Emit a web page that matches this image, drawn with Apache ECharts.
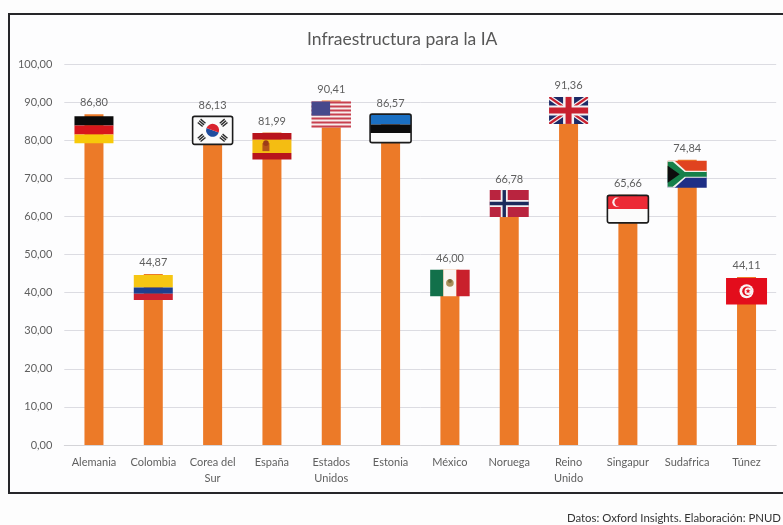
<!DOCTYPE html>
<html lang="es">
<head>
<meta charset="utf-8">
<title>Infraestructura para la IA</title>
<script src="https://cdn.jsdelivr.net/npm/echarts@6/dist/echarts.min.js"></script>
<style>
  html, body { margin: 0; padding: 0; background: #fdfdfd; }
  #chart { width: 783px; height: 525px; }
</style>
</head>
<body>
<div id="chart"></div>
<script>
const categories = ['Alemania', 'Colombia', 'Corea del\nSur', 'España', 'Estados\nUnidos', 'Estonia',
  'México', 'Noruega', 'Reino\nUnido', 'Singapur', 'Sudafrica', 'Túnez'];
const scores = [86.80, 44.87, 86.13, 81.99, 90.41, 86.57, 46.00, 66.78, 91.36, 65.66, 74.84, 44.11];
const flagCodes = ['de', 'co', 'kr', 'es', 'us', 'ee', 'mx', 'no', 'gb', 'sg', 'za', 'tn'];
const titleText = 'Infraestructura para la IA';
const sourceText = 'Datos: Oxford Insights. Elaboración: PNUD';

const TEXT = '#5f5f5f';
const FONT = 'Lato, "Open Sans", sans-serif';

// Shape helpers; all coordinates are local to a flag whose origin is its top-left corner.
const rect = (x, y, width, height, fill) => ({ type: 'rect', shape: { x, y, width, height }, style: { fill } });
const poly = (points, fill) => ({ type: 'polygon', shape: { points }, style: { fill } });
const disc = (cx, cy, r, fill) => ({ type: 'circle', shape: { cx, cy, r }, style: { fill } });
const star = (cx, cy, r, fill) => {
  const pts = [];
  for (let k = 0; k < 10; k++) {
    const a = -Math.PI / 2 + k * Math.PI / 5, q = k % 2 ? r * 0.42 : r;
    pts.push([cx + q * Math.cos(a), cy + q * Math.sin(a)]);
  }
  return poly(pts, fill);
};
const frame = (w, h) => ({
  type: 'rect', shape: { x: 0, y: 0, width: w, height: h, r: 2 },
  style: { fill: 'none', stroke: '#1c1c1c', lineWidth: 1.6 }
});
const hBands = (w, h, colors) => colors.map(([from, to, c]) => rect(0, h * from, w, h * (to - from), c));

// Each entry: width, height, vertical offset from the bar top, and the drawing routine.
const flags = {
  de: { w: 39, h: 27, dy: 2, draw: (w, h) => hBands(w, h, [[0, .34, '#0b0b0b'], [.34, .67, '#d8161b'], [.67, 1, '#f7c90a']]) },
  co: { w: 39, h: 25, dy: 1, draw: (w, h) => hBands(w, h, [[0, .5, '#f6c613'], [.5, .75, '#1d3f8f'], [.75, 1, '#cc2130']]) },
  kr: {
    w: 40, h: 28, dy: -0.5, draw: (w, h) => {
      const cx = w / 2, cy = h / 2, out = [rect(0, 0, w, h, '#fbfbfb')];
      [[-11, -7.5, 40], [11, -7.5, -40], [-11, 7.5, -40], [11, 7.5, 40]].forEach(([dx, dy, deg]) => {
        [-2.2, 0, 2.2].forEach(off => {
          const a = deg * Math.PI / 180;
          out.push({
            type: 'rect', shape: { x: -3.2, y: -0.7, width: 6.4, height: 1.4 },
            x: cx + dx + off * Math.cos(a + Math.PI / 2), y: cy + dy + off * Math.sin(a + Math.PI / 2),
            rotation: -a, style: { fill: '#2a2a2a' }
          });
        });
      });
      out.push({ type: 'sector', shape: { cx, cy, r: 6.5, r0: 0, startAngle: 0.35, endAngle: 0.35 + Math.PI }, style: { fill: '#1f4c9e' } });
      out.push({ type: 'sector', shape: { cx, cy, r: 6.5, r0: 0, startAngle: 0.35 + Math.PI, endAngle: 0.35 + 2 * Math.PI }, style: { fill: '#d9232e' } });
      out.push(frame(w, h));
      return out;
    }
  },
  es: {
    w: 39, h: 26.5, dy: 0.5, draw: (w, h) => [
      ...hBands(w, h, [[0, .25, '#b8141c'], [.25, .75, '#f4bd12'], [.75, 1, '#b8141c']]),
      rect(10, 10, 7, 8, '#b4541a'), disc(13.5, 10, 2.8, '#9c3c18')
    ]
  },
  us: {
    w: 39.5, h: 26, dy: 1, draw: (w, h) => {
      const out = [rect(0, 0, w, h, '#f7eeee')];
      for (let k = 0; k < 7; k++) out.push(rect(0, k * 2 * h / 13, w, h / 13, '#c8404f'));
      out.push(rect(0, 0, w * 0.47, h * 0.54, '#47498c'));
      return out;
    }
  },
  ee: {
    w: 41, h: 28.5, dy: -1, draw: (w, h) => [
      ...hBands(w, h, [[0, .36, '#1a6fc2'], [.36, .66, '#0b0b0b'], [.66, 1, '#fbfbfb']]),
      frame(w, h)
    ]
  },
  mx: {
    w: 39.5, h: 26.5, dy: 0, draw: (w, h) => [
      rect(0, 0, w / 3, h, '#12704a'), rect(w / 3, 0, w / 3, h, '#f8f6f2'), rect(2 * w / 3, 0, w / 3, h, '#c9202c'),
      disc(w / 2, h / 2, 3.8, '#a8905a'), disc(w / 2, h / 2 - 2, 2, '#7a6a3a')
    ]
  },
  no: {
    w: 39, h: 27, dy: -0.5, draw: (w, h) => [
      rect(0, 0, w, h, '#b9243f'),
      rect(11, 0, 7, h, '#f3f0f2'), rect(0, 10, w, 7, '#f3f0f2'),
      rect(12.8, 0, 3.4, h, '#1b2a5c'), rect(0, 11.8, w, 3.4, '#1b2a5c')
    ]
  },
  gb: {
    w: 39, h: 27, dy: 0, draw: (w, h) => [
      rect(0, 0, w, h, '#1c2a66'),
      poly([[0, 0], [4, 0], [w, h - 3], [w, h], [w - 4, h], [0, 3]], '#f4f0f2'),
      poly([[w, 0], [w - 4, 0], [0, h - 3], [0, h], [4, h], [w, 3]], '#f4f0f2'),
      poly([[0, 0], [2, 0], [w, h - 1.4], [w, h], [w - 2, h], [0, 1.4]], '#c8202f'),
      poly([[w, 0], [w - 2, 0], [0, h - 1.4], [0, h], [2, h], [w, 1.4]], '#c8202f'),
      rect(w / 2 - 5.5, 0, 11, h, '#f4f0f2'), rect(0, h / 2 - 5, w, 10, '#f4f0f2'),
      rect(w / 2 - 3, 0, 6, h, '#c8202f'), rect(0, h / 2 - 3, w, 6, '#c8202f')
    ]
  },
  sg: {
    w: 41, h: 27.5, dy: 0.5, draw: (w, h) => [
      rect(0, 0, w, h / 2, '#ec2a36'), rect(0, h / 2, w, h / 2, '#fbfbfb'),
      disc(9.5, h / 4, 4.6, '#fbeeee'), disc(11.3, h / 4, 4.2, '#ec2a36'),
      frame(w, h)
    ]
  },
  za: {
    w: 39, h: 27, dy: 1, draw: (w, h) => [
      rect(0, 0, w, h / 2, '#e0431f'), rect(0, h / 2, w, h / 2, '#1e2f86'),
      poly([[0, 0], [7, 0], [18, h / 2 - 3.5], [w, h / 2 - 3.5], [w, h / 2 + 3.5], [18, h / 2 + 3.5], [7, h], [0, h]], '#f1f1ea'),
      poly([[0, 1], [5, 1], [17, h / 2 - 2.3], [w, h / 2 - 2.3], [w, h / 2 + 2.3], [17, h / 2 + 2.3], [5, h - 1], [0, h - 1]], '#16804a'),
      poly([[0, 5], [12, h / 2], [0, h - 5]], '#0d0d0d')
    ]
  },
  tn: {
    w: 41, h: 26.5, dy: 1, draw: (w, h) => [
      rect(0, 0, w, h, '#e30d1c'),
      disc(w / 2, h / 2, 7, '#fbf3f3'), disc(w / 2 + 0.5, h / 2, 4.8, '#e30d1c'), disc(w / 2 + 1.8, h / 2, 3.8, '#fbf3f3'),
      star(w / 2 + 1.5, h / 2, 2.6, '#e30d1c')
    ]
  }
};

const chart = echarts.init(document.getElementById('chart'), null, { renderer: 'canvas' });

chart.setOption({
  animation: false,
  backgroundColor: '#fdfdfd',
  title: {
    text: titleText, left: 302, top: 25,
    textStyle: { color: '#575757', fontFamily: FONT, fontSize: 17.5, fontWeight: 'normal' }
  },
  grid: { left: 64.3, right: 6.8, top: 64, bottom: 80 },
  xAxis: {
    type: 'category', data: categories,
    axisTick: { show: false },
    axisLine: { lineStyle: { color: '#d4d4d8', width: 1 } },
    axisLabel: {
      color: TEXT, fontFamily: FONT, fontSize: 11, margin: 9, lineHeight: 16, interval: 0
    }
  },
  yAxis: {
    type: 'value', min: 0, max: 100, interval: 10,
    axisLine: { show: false },
    axisTick: { show: false },
    splitLine: { lineStyle: { color: '#dcdce2', width: 1 } },
    axisLabel: {
      color: TEXT, fontFamily: FONT, fontSize: 11, margin: 12,
      formatter: v => v.toFixed(2).replace('.', ',')
    }
  },
  series: [
    {
      type: 'bar', data: scores, barWidth: 19, z: 2,
      itemStyle: { color: '#ec7a28' },
      label: {
        show: true, position: 'top', distance: 6, color: TEXT, fontFamily: FONT, fontSize: 11,
        formatter: p => p.value.toFixed(2).replace('.', ',')
      }
    },
    {
      // Flag badge at the head of every bar, anchored on the bar's value.
      type: 'custom', z: 3, clip: false, silent: true,
      data: scores.map((v, i) => [i, v]),
      encode: { x: 0, y: 1 },
      renderItem: (params, api) => {
        const p = api.coord([api.value(0), api.value(1)]);
        const f = flags[flagCodes[params.dataIndex]];
        return {
          type: 'group',
          x: p[0] - f.w / 2,
          y: p[1] + f.dy,
          children: f.draw(f.w, f.h)
        };
      }
    }
  ],
  graphic: [
    {
      // Chart frame; its right side runs off the page.
      type: 'rect', z: -1,
      shape: { x: 9, y: 14, width: 800, height: 479 },
      style: { fill: '#fdfdfe', stroke: '#262629', lineWidth: 2 }
    },
    {
      type: 'text', right: 2, top: 513,
      style: { text: sourceText, fill: '#333', fontFamily: FONT, fontSize: 11.4 }
    }
  ]
});
</script>
</body>
</html>
